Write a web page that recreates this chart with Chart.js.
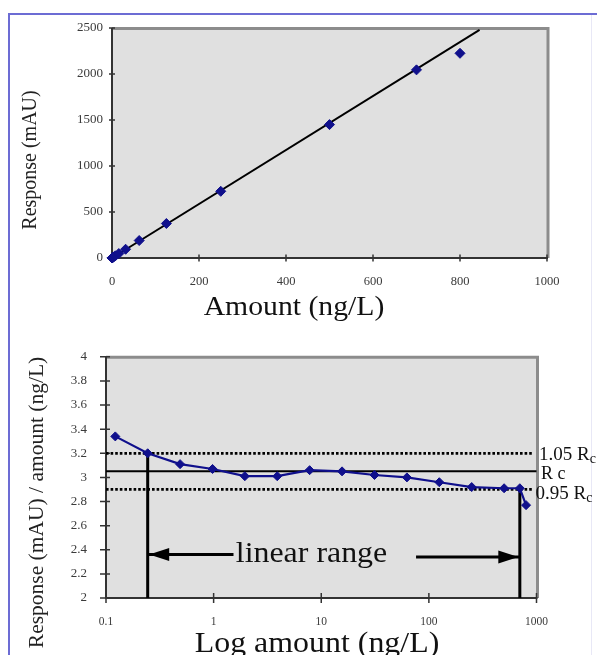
<!DOCTYPE html>
<html><head><meta charset="utf-8">
<script src="https://cdn.jsdelivr.net/npm/chart.js@4.4.1/dist/chart.umd.min.js"></script>
<style>
html,body{margin:0;padding:0;background:#fff;width:597px;height:655px;overflow:hidden;position:relative;}
#frame{position:absolute;left:8px;top:13px;width:640px;height:700px;border-top:2px solid #6c6cd4;border-left:2px solid #6c6cd4;}
#rline{position:absolute;left:591px;top:15px;width:1px;height:640px;background:#e8e8f6;}
canvas{position:absolute;left:0;}
#c1{top:0;}
#c2{top:330px;}
</style></head><body>
<div id="frame"></div><div id="rline"></div>
<canvas id="c1" width="597" height="330"></canvas>
<canvas id="c2" width="597" height="325"></canvas>
<script>
// ---- data ----
const amounts   = [0.122, 0.244, 0.488, 0.977, 1.95, 3.9, 7.8, 15.6, 31.25, 62.5, 125, 250, 500, 700, 800];
const responses = [0.4, 0.8, 1.5, 3, 6, 12, 24, 48, 95, 190, 375, 725, 1450, 2045, 2225];
const ratios    = [3.34, 3.20, 3.11, 3.07, 3.01, 3.01, 3.06, 3.05, 3.02, 3.00, 2.96, 2.92, 2.91, 2.91, 2.77];
const fitX = [0, 845];
const fitY = [0, 2480];
const rcLevels = [3.20, 3.05, 2.90];          // 1.05 Rc, Rc, 0.95 Rc
const rcLineEnds = [938, 1000, 938];
const rangeLimits = [0.244, 700];             // linear range limits (ng/L)
const rangeTops = [3.20, 2.90];
const arrowStarts = [1.53, 76];
const arrowLevels = [2.36, 2.34];
const topXTicks = [0, 200, 400, 600, 800, 1000];
const topYTicks = [0, 500, 1000, 1500, 2000, 2500];
const botXTicks = [0.1, 1, 10, 100, 1000];
const botXLabels = ['0.1', '1', '10', '100', '1000'];
const botYTicks = [2, 2.2, 2.4, 2.6, 2.8, 3, 3.2, 3.4, 3.6, 3.8, 4];
const botYLabels = ['2', '2.2', '2.4', '2.6', '2.8', '3', '3.2', '3.4', '3.6', '3.8', '4'];

const SERIF = '"Liberation Serif", "Times New Roman", Times, serif';
const NAVY = '#10108c';

function txt(ctx, s, x, y, size, sx, align) {
  ctx.save();
  ctx.font = size + 'px ' + SERIF;
  ctx.fillStyle = '#111';
  ctx.textAlign = align || 'center';
  ctx.textBaseline = 'alphabetic';
  ctx.translate(x, y);
  ctx.scale(sx, 1);
  ctx.fillText(s, 0, 0);
  ctx.restore();
}
function vtxt(ctx, s, x, y, size) {
  ctx.save();
  ctx.font = size + 'px ' + SERIF;
  ctx.fillStyle = '#222';
  ctx.textAlign = 'center';
  ctx.textBaseline = 'alphabetic';
  ctx.translate(x, y);
  ctx.rotate(-Math.PI / 2);
  ctx.fillText(s, 0, 0);
  ctx.restore();
}

function plotPlugin(id, tk, after) {
  return {
    id: id,
    beforeDraw(chart) {
      const {ctx, chartArea: a} = chart;
      ctx.save();
      ctx.fillStyle = '#e0e0e0';
      ctx.fillRect(a.left, a.top, a.right - a.left, a.bottom - a.top);
      ctx.restore();
    },
    beforeDatasetsDraw(chart) {
      const {ctx, chartArea: a, scales} = chart;
      ctx.save();
      ctx.strokeStyle = '#8c8c8c';
      ctx.lineWidth = 3;
      ctx.beginPath();
      ctx.moveTo(a.left, a.top + 0.5);
      ctx.lineTo(a.right + 1, a.top + 0.5);
      ctx.lineTo(a.right + 1, a.bottom);
      ctx.stroke();
      ctx.strokeStyle = '#333';
      ctx.lineWidth = 2;
      ctx.beginPath();
      ctx.moveTo(a.left, a.top);
      ctx.lineTo(a.left, a.bottom);
      ctx.lineTo(a.right + 1, a.bottom);
      ctx.stroke();
      ctx.lineWidth = 1.5;
      ctx.beginPath();
      scales.x.ticks.forEach(t => {
        const p = scales.x.getPixelForValue(t.value);
        ctx.moveTo(p, a.bottom - tk.xin);
        ctx.lineTo(p, a.bottom + tk.xout);
      });
      scales.y.ticks.forEach(t => {
        const p = scales.y.getPixelForValue(t.value);
        ctx.moveTo(a.left - tk.yout, p);
        ctx.lineTo(a.left + tk.yin, p);
      });
      ctx.stroke();
      ctx.restore();
    },
    afterDraw(chart) { after(chart); }
  };
}

const commonOpts = {
  responsive: false,
  animation: false,
  devicePixelRatio: 1,
  plugins: { legend: { display: false }, tooltip: { enabled: false } },
};

// ---------------- top chart ----------------
new Chart(document.getElementById('c1'), {
  type: 'scatter',
  data: {
    datasets: [
      {
        data: amounts.map((v, i) => ({x: v, y: responses[i]})),
        showLine: false, pointStyle: 'rectRot', pointRadius: 5,
        pointBackgroundColor: NAVY, pointBorderColor: NAVY, pointBorderWidth: 1, clip: 8
      },
      {
        data: fitX.map((v, i) => ({x: v, y: fitY[i]})),
        showLine: true, borderColor: '#000', borderWidth: 2, pointRadius: 0, clip: 4
      }
    ]
  },
  options: Object.assign({}, commonOpts, {
    layout: { padding: { left: 0, right: 50, top: 28, bottom: 0 } },
    scales: {
      x: {
        type: 'linear', min: 0, max: 1000,
        afterBuildTicks: s => { s.ticks = topXTicks.map(v => ({value: v})); },
        afterFit: s => { s.height = 72; },
        grid: { display: false, drawTicks: false }, border: { display: false },
        ticks: { padding: 16, color: '#3a3a3a', font: { family: SERIF, size: 12.5 }, callback: v => String(v) }
      },
      y: {
        type: 'linear', min: 0, max: 2500,
        afterBuildTicks: s => { s.ticks = topYTicks.map(v => ({value: v})); },
        afterFit: s => { s.width = 112; },
        grid: { display: false, drawTicks: false }, border: { display: false },
        ticks: { padding: 9, color: '#3a3a3a', font: { family: SERIF, size: 13 }, callback: v => String(v) }
      }
    }
  }),
  plugins: [plotPlugin('p1', {xin: 3.5, xout: 3.5, yin: 3, yout: 3}, chart => {
    const ctx = chart.ctx;
    txt(ctx, 'Amount (ng/L)', 294, 315, 27, 1.1);
    vtxt(ctx, 'Response (mAU)', 36, 160, 20);
  })]
});

// ---------------- bottom chart ----------------
const refDatasets = rcLevels.map((lv, i) => ({
  data: [{x: 0.1, y: lv}, {x: rcLineEnds[i], y: lv}],
  showLine: true, borderColor: '#000', borderWidth: i === 1 ? 2 : 2.8,
  borderDash: i === 1 ? [] : [2.6, 2], pointRadius: 0, clip: false
}));
const rangeDatasets = rangeLimits.map((v, i) => ({
  data: [{x: v, y: rangeTops[i]}, {x: v, y: 2}],
  showLine: true, borderColor: '#000', borderWidth: 3, pointRadius: 0, clip: false
}));
const arrowDatasets = rangeLimits.map((v, i) => ({
  data: [{x: arrowStarts[i], y: arrowLevels[i]}, {x: v, y: arrowLevels[i]}],
  showLine: true, borderColor: '#000', borderWidth: 3, pointRadius: 0, clip: false
}));

new Chart(document.getElementById('c2'), {
  type: 'scatter',
  data: {
    datasets: [
      {
        data: amounts.map((v, i) => ({x: v, y: ratios[i]})),
        showLine: true, borderColor: NAVY, borderWidth: 2.2,
        pointStyle: 'rectRot', pointRadius: 4.5,
        pointBackgroundColor: NAVY, pointBorderColor: NAVY, pointBorderWidth: 1, clip: 8
      }
    ].concat(refDatasets, rangeDatasets, arrowDatasets)
  },
  options: Object.assign({}, commonOpts, {
    layout: { padding: { left: 0, right: 60.5, top: 16, bottom: 0 } },
    scales: {
      x: {
        type: 'logarithmic', min: 0.1, max: 1000,
        afterBuildTicks: s => { s.ticks = botXTicks.map(v => ({value: v})); },
        afterFit: s => { s.height = 57; },
        grid: { display: false, drawTicks: false }, border: { display: false },
        ticks: { padding: 17, color: '#3a3a3a', font: { family: SERIF, size: 11.5 },
                 callback: (v, i) => botXLabels[i] }
      },
      y: {
        type: 'linear', min: 2, max: 4,
        afterBuildTicks: s => { s.ticks = botYTicks.map(v => ({value: v})); },
        afterFit: s => { s.width = 106; },
        grid: { display: false, drawTicks: false }, border: { display: false },
        ticks: { padding: 19, color: '#3a3a3a', font: { family: SERIF, size: 13 },
                 callback: (v, i) => botYLabels[i] }
      }
    }
  }),
  plugins: [plotPlugin('p2', {xin: 5, xout: 5, yin: 4, yout: 6}, chart => {
    const {ctx, scales, chartArea: a} = chart;
    const xs = scales.x, ys = scales.y;
    // arrow heads
    ctx.save();
    ctx.fillStyle = '#000';
    const lt = xs.getPixelForValue(rangeLimits[0]) + 1.5, ly = ys.getPixelForValue(arrowLevels[0]);
    ctx.beginPath(); ctx.moveTo(lt, ly); ctx.lineTo(lt + 20, ly - 6.5); ctx.lineTo(lt + 20, ly + 6.5); ctx.closePath(); ctx.fill();
    const rt = xs.getPixelForValue(rangeLimits[1]) - 1.5, ry = ys.getPixelForValue(arrowLevels[1]);
    ctx.beginPath(); ctx.moveTo(rt, ry); ctx.lineTo(rt - 20, ry - 6.5); ctx.lineTo(rt - 20, ry + 6.5); ctx.closePath(); ctx.fill();
    ctx.restore();
    // reference labels
    const y0 = ys.getPixelForValue(rcLevels[0]);
    const y1 = ys.getPixelForValue(rcLevels[1]);
    const y2 = ys.getPixelForValue(rcLevels[2]);
    ctx.save();
    ctx.font = '19px ' + SERIF;
    const w0 = ctx.measureText('1.05 R').width;
    const w2 = ctx.measureText('0.95 R').width;
    ctx.restore();
    txt(ctx, '1.05 R', a.right + 2.5, y0 + 7, 19, 1, 'left');
    txt(ctx, 'c', a.right + 2.5 + w0, y0 + 10, 14, 1, 'left');
    txt(ctx, 'R c', a.right + 4.5, y1 + 7.6, 18, 1, 'left');
    txt(ctx, '0.95 R', a.right - 1, y2 + 10, 19, 1, 'left');
    txt(ctx, 'c', a.right - 1 + w2, y2 + 13, 14, 1, 'left');
    // in-plot text and titles
    txt(ctx, 'linear range', 311.5, 231.7, 29, 1.1);
    txt(ctx, 'Log amount (ng/L)', 317, 321.7, 29, 1.1);
    vtxt(ctx, 'Response (mAU) / amount (ng/L)', 43, 172.5, 21.5);
  })]
});
</script>
</body></html>
